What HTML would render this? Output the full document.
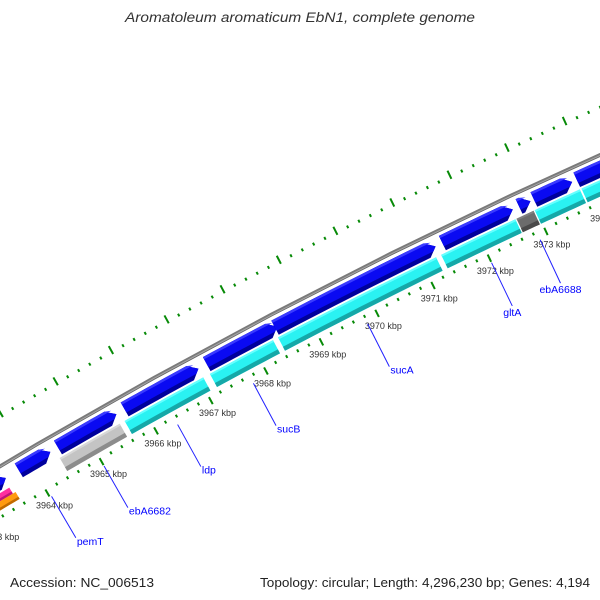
<!DOCTYPE html>
<html><head><meta charset="utf-8"><style>
html,body{margin:0;padding:0;background:#fff;}
svg{display:block;font-family:"Liberation Sans","DejaVu Sans",sans-serif;}
</style></head><body>
<svg id="map" width="600" height="600" viewBox="0 0 600 600" xmlns="http://www.w3.org/2000/svg">
<rect width="600" height="600" fill="#fff"/>
<g id="outerTicks"></g>
<g id="backbone"></g>
<g id="fwd"></g>
<g id="rev"></g>
<g id="innerTicks"></g>
<g id="tickLabels"></g>
<g id="geneLabels"></g>
<text x="300" y="22" text-anchor="middle" font-size="13.5" font-style="italic" fill="#333" textLength="350" lengthAdjust="spacingAndGlyphs">Aromatoleum aromaticum EbN1, complete genome</text>
<text x="10" y="587" font-size="12.5" fill="#222" textLength="144" lengthAdjust="spacingAndGlyphs">Accession: NC_006513</text>
<text x="590" y="587" text-anchor="end" font-size="12.5" fill="#222" textLength="330" lengthAdjust="spacingAndGlyphs">Topology: circular; Length: 4,296,230 bp; Genes: 4,194</text>
</svg>
<script>
// ---- data (kbp) ----
const fwdStart = [3963.0, 3963.79, 3964.51, 3965.73, 3967.22, 3968.45, 3971.43, 3972.78, 3973.04, 3973.79];
const fwdEnd   = [3963.55, 3964.37, 3965.58, 3967.07, 3968.49, 3971.31, 3972.67, 3972.98, 3973.71, 3975.2];
const revStart = [3964.45, 3965.64, 3967.19, 3968.42, 3971.33, 3972.66, 3972.98, 3973.80];
const revEnd   = [3965.55, 3967.07, 3968.33, 3971.24, 3972.64, 3972.96, 3973.77, 3975.5];
const revType  = ['grey', 'cyan', 'cyan', 'cyan', 'cyan', 'dark', 'cyan', 'cyan'];
const extraStart = [3962.8, 3962.8];
const extraEnd   = [3963.52, 3963.57];
const extraType  = ['pink', 'orange'];
const tickKbp = [3962, 3963, 3964, 3965, 3966, 3967, 3968, 3969, 3970, 3971, 3972, 3973, 3974, 3975];
const geneNames = ['pemT', 'ebA6682', 'ldp', 'sucB', 'sucA', 'gltA', 'ebA6688'];
const genePos   = [3964.03, 3965.0, 3966.35, 3967.73, 3969.79, 3972.0, 3972.86];
const geneAnchor = ['start', 'start', 'start', 'start', 'start', 'middle', 'middle'];

// ---- geometry ----
const R = 6000;
const A = [45.9, 490.4], C = [544.7, 228.7]; // 3964 and 3973 kbp on inner tick ring
const mx = (A[0] + C[0]) / 2, my = (A[1] + C[1]) / 2;
const chx = C[0] - A[0], chy = C[1] - A[1], ch = Math.hypot(chx, chy);
const nx = -chy / ch, ny = chx / ch; // normal (down-right)
const d = Math.sqrt(R * R - ch * ch / 4);
const cx = mx + nx * d, cy = my + ny * d;
const angA = Math.atan2(A[1] - cy, A[0] - cx), angC = Math.atan2(C[1] - cy, C[0] - cx);
function ang(k) { return angA + (k - 3964) / 9 * (angC - angA); }
function P(k, r) { const a = ang(k); return [cx + (R + r) * Math.cos(a), cy + (R + r) * Math.sin(a)]; }
const NS = 'http://www.w3.org/2000/svg';
function pts(list) { return list.map(p => p[0].toFixed(2) + ',' + p[1].toFixed(2)).join(' '); }
function edge(k1, k2, r) { const o = []; for (let i = 0; i <= 8; i++) o.push(P(k1 + (k2 - k1) * i / 8, r)); return o; }
function poly(g, list, fill) {
  const e = document.createElementNS(NS, 'polygon');
  e.setAttribute('points', pts(list)); e.setAttribute('fill', fill); g.appendChild(e); return e;
}
function band(g, k1, k2, r1, r2, fill) { return poly(g, edge(k1, k2, r2).concat(edge(k2, k1, r1)), fill); }

// backbone
const bb = document.getElementById('backbone');
band(bb, 3960, 3977, 42.5, 44.5, '#a6a6a6');
band(bb, 3960, 3977, 44.3, 46.2, '#7a7a7a');
band(bb, 3960, 3977, 42.5, 43.3, '#666');

// forward features (arrows)
const fwd = document.getElementById('fwd');
const r1 = 23, r2 = 39, H = 0.15;
for (let i = 0; i < fwdStart.length; i++) {
  const b1 = fwdStart[i], b2 = fwdEnd[i], hb = b2 - H, mid = (r1 + r2) / 2;
  const g = document.createElementNS(NS, 'g');
  
  
  fwd.appendChild(g);
  poly(g, edge(b1, hb, r2).concat([P(b2, mid)]).concat(edge(hb, b1, r1)), '#00009c');
  poly(g, edge(b1, hb, r2).concat([P(b2, mid), P(b2 - H * 3.5 / 8, r1 + 4.5)]).concat(edge(b2 - H * 3.5 / 8, b1, r1 + 4.5)), '#0a0af2');
  poly(g, edge(b1, hb, r2).concat([P(b2 - H * 2.5 / 8, r2 - 2.5)]).concat(edge(b2 - H * 2.5 / 8, b1, r2 - 2.5)), '#3a3aff');
}

// reverse features
const rev = document.getElementById('rev');
const colors = { cyan: ['#2af2f2', '#15a8a8', '#66ffff'], grey: ['#c4c4c4', '#8c8c8c', '#d8d8d8'], dark: ['#6c6c6c', '#4a4a4a', '#808080'], pink: ['#ff2fa0', '#c0167a', '#ff66bb'], orange: ['#ff9a10', '#c06a00', '#ffb340'] };
const q1 = 6, q2 = 21;
for (let i = 0; i < revStart.length; i++) {
  const c = colors[revType[i]];
  const g = document.createElementNS(NS, 'g');
  
  
  rev.appendChild(g);
  band(g, revStart[i], revEnd[i], q1, q2, c[0]);
  band(g, revStart[i], revEnd[i], q1, q1 + 4.5, c[1]);
  band(g, revStart[i], revEnd[i], q2 - 2, q2, c[2]);
}
for (let i = 0; i < extraStart.length; i++) {
  const c = colors[extraType[i]];
  const g = document.createElementNS(NS, 'g');
  
  
  rev.appendChild(g);
  const lo = i === 0 ? 14 : 6, hi = i === 0 ? 21 : 14;
  band(g, extraStart[i], extraEnd[i], lo, hi, c[0]);
  band(g, extraStart[i], extraEnd[i], lo, lo + 2.5, c[1]);
}

// ticks
function tick(g, k, a, b, w, name) {
  const p = P(k, a), q = P(k, b);
  const l = document.createElementNS(NS, 'line');
  l.setAttribute('x1', p[0]); l.setAttribute('y1', p[1]); l.setAttribute('x2', q[0]); l.setAttribute('y2', q[1]);
  l.setAttribute('stroke', '#078a07'); l.setAttribute('stroke-width', w);
  
  
  g.appendChild(l);
}
const it = document.getElementById('innerTicks'), ot = document.getElementById('outerTicks');
for (let j = 0; j < tickKbp.length - 1; j++) {
  const k = tickKbp[j];
  tick(it, k, -7, 1, 2, 'major-tick');
  tick(ot, k, 85, 94, 2, 'outer-major-tick');
  for (let m = 1; m < 5; m++) {
    tick(it, k + m * 0.2, -1.5, 1.5, 2, 'minor-tick');
    tick(ot, k + m * 0.2, 86, 89, 2, 'outer-minor-tick');
  }
}
const tl = document.getElementById('tickLabels');
for (let j = 0; j < tickKbp.length; j++) {
  const p = P(tickKbp[j], -17);
  const t = document.createElementNS(NS, 'text');
  t.setAttribute('x', p[0]); t.setAttribute('y', p[1] + 3.3);
  t.setAttribute('text-anchor', 'middle'); t.setAttribute('font-size', '9'); t.setAttribute('fill', '#333');
  
  
  t.textContent = tickKbp[j] + ' kbp';
  tl.appendChild(t);
}

// gene labels
const gl = document.getElementById('geneLabels');
for (let i = 0; i < geneNames.length; i++) {
  const p = P(genePos[i], -8), q = P(genePos[i], -56);
  const l = document.createElementNS(NS, 'line');
  l.setAttribute('x1', p[0]); l.setAttribute('y1', p[1]); l.setAttribute('x2', q[0]); l.setAttribute('y2', q[1]);
  l.setAttribute('stroke', '#2020ff'); l.setAttribute('stroke-width', '1');
  
  
  gl.appendChild(l);
  const t = document.createElementNS(NS, 'text');
  const mid = geneAnchor[i] === 'middle';
  t.setAttribute('x', q[0] + (mid ? 0 : 1)); t.setAttribute('y', q[1] + (mid ? 10 : 7));
  t.setAttribute('text-anchor', geneAnchor[i]); t.setAttribute('font-size', '10.5'); t.setAttribute('fill', '#0000ff');
  
  
  t.textContent = geneNames[i];
  gl.appendChild(t);
}
</script>
</body></html>
